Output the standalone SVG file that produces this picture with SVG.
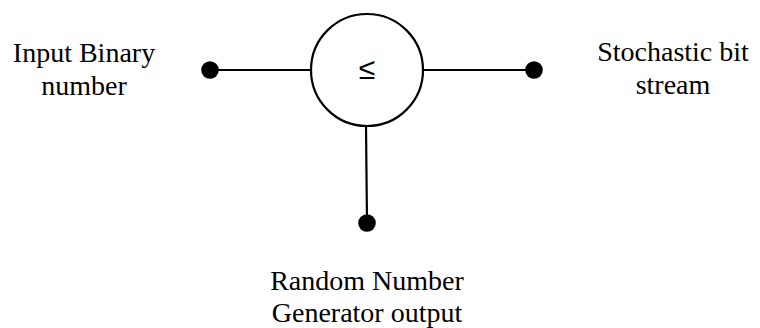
<svg xmlns="http://www.w3.org/2000/svg" width="760" height="328" viewBox="0 0 760 328">
<style>
.lbl{font-family:"Liberation Serif","Times New Roman",serif;font-size:28px;fill:#000;text-anchor:middle}
.ln{stroke:#000;stroke-width:2.2;fill:none}
.dot{fill:#000}
.sym{font-family:"Liberation Sans",Arial,sans-serif;font-size:30px;fill:#000;text-anchor:middle}
</style>
<rect width="760" height="328" fill="#fff"/>
<g id="connectors">
<line class="ln" x1="210" y1="70" x2="311" y2="70"/>
<line class="ln" x1="423" y1="70" x2="534" y2="70"/>
<line class="ln" x1="366" y1="126" x2="367" y2="223"/>
</g>
<g id="comparator">
<circle class="ln" cx="367" cy="70" r="56"/>
<text class="sym" x="367" y="79">≤</text>
</g>
<g id="input">
<circle class="dot" cx="210" cy="70" r="8.8"/>
<text class="lbl" x="84" y="62">Input Binary</text>
<text class="lbl" x="84" y="95">number</text>
</g>
<g id="output">
<circle class="dot" cx="534" cy="70" r="8.8"/>
<text class="lbl" x="673" y="61">Stochastic bit</text>
<text class="lbl" x="673" y="94">stream</text>
</g>
<g id="rng">
<circle class="dot" cx="367" cy="223" r="8.8"/>
<text class="lbl" x="367" y="290">Random Number</text>
<text class="lbl" x="367" y="322">Generator output</text>
</g>
</svg>
